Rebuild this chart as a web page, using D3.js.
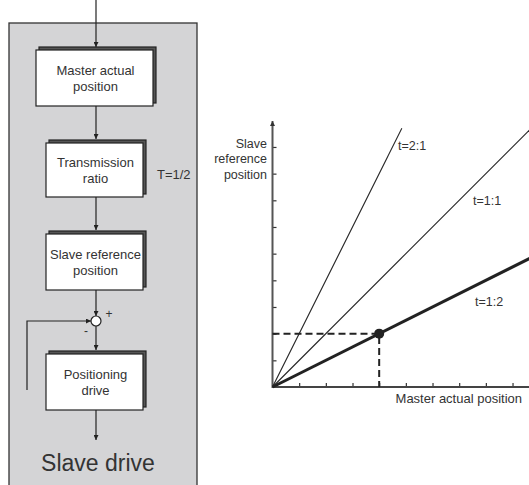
<!DOCTYPE html>
<html>
<head>
<meta charset="utf-8">
<script src="https://cdn.jsdelivr.net/npm/d3@7"></script>
<style>
  html, body { margin: 0; padding: 0; background: #fff; }
  svg { display: block; font-family: "Liberation Sans", Arial, sans-serif; }
</style>
</head>
<body>
<svg id="chart" width="529" height="485"></svg>
<script>
// ---------------- data ----------------
const blockLabels = [
  ["Master actual", "position"],
  ["Transmission", "ratio"],
  ["Slave reference", "position"],
  ["Positioning", "drive"]
];
const ratioText = "T=1/2";
const panelTitle = "Slave drive";

const seriesNames = ["t=2:1", "t=1:1", "t=1:2"];
const seriesSlopes = [2, 1, 0.5];
const seriesEndX = [4.85, 9.75, 9.75];
const operatingPoint = [4, 2];
const xTicks = [1, 2, 3, 4, 5, 6, 7, 8, 9];
const yTicks = [1, 2, 3, 4, 5, 6, 7, 8, 9];
const yLabelLines = ["Slave", "reference", "position"];
const xLabel = "Master actual position";

// ---------------- setup ----------------
const svg = d3.select("#chart");
const ink = "#222";
const defs = svg.append("defs");
defs.append("marker").attr("id", "arr")
  .attr("viewBox", "0 0 10 10").attr("refX", 10).attr("refY", 5)
  .attr("markerWidth", 5).attr("markerHeight", 5).attr("markerUnits", "userSpaceOnUse")
  .attr("orient", "auto")
  .append("path").attr("d", "M0,0 L10,5 L0,10 z").attr("fill", ink);
defs.append("marker").attr("id", "arrAxis")
  .attr("viewBox", "0 0 10 10").attr("refX", 10).attr("refY", 5)
  .attr("markerWidth", 7).attr("markerHeight", 5).attr("markerUnits", "userSpaceOnUse")
  .attr("orient", "auto")
  .append("path").attr("d", "M0,0 L10,5 L0,10 z").attr("fill", "#333");

// ---------------- left block diagram ----------------
const left = svg.append("g");
left.append("rect").attr("x", 9).attr("y", 23).attr("width", 188).attr("height", 480)
  .attr("fill", "#d4d4d6").attr("stroke", "#333").attr("stroke-width", 1.3);

const boxLayout = [
  { x: 36, y: 50, w: 117, h: 56 },
  { x: 46, y: 143, w: 97, h: 54 },
  { x: 46, y: 234, w: 97, h: 56 },
  { x: 46, y: 354, w: 97, h: 56 }
];
const ax = 96;

blockLabels.forEach((lines, i) => {
  const b = boxLayout[i];
  const g = left.append("g");
  g.append("rect").attr("x", b.x + 3).attr("y", b.y - 3).attr("width", b.w).attr("height", b.h)
    .attr("fill", "#555").attr("stroke", ink).attr("stroke-width", 1.2);
  g.append("rect").attr("x", b.x).attr("y", b.y).attr("width", b.w).attr("height", b.h)
    .attr("fill", "#fff").attr("stroke", ink).attr("stroke-width", 1.2);
  const cx = b.x + b.w / 2 + 1, cy = b.y + b.h / 2;
  g.selectAll("text").data(lines).join("text")
    .attr("x", cx).attr("y", (d, j) => cy + (j - (lines.length - 1) / 2) * 16 + 4.5)
    .attr("text-anchor", "middle").attr("font-size", 13).attr("fill", "#333")
    .text(d => d);
});

function arrow(x1, y1, x2, y2) {
  left.append("line").attr("x1", x1).attr("y1", y1).attr("x2", x2).attr("y2", y2)
    .attr("stroke", ink).attr("stroke-width", 1.2).attr("marker-end", "url(#arr)");
}
arrow(ax, 0, ax, boxLayout[0].y - 3);
arrow(ax, boxLayout[0].y + boxLayout[0].h, ax, boxLayout[1].y - 4);
arrow(ax, boxLayout[1].y + boxLayout[1].h, ax, boxLayout[2].y - 4);
const circ = { x: ax, y: 321, r: 5 };
arrow(ax, boxLayout[2].y + boxLayout[2].h, ax, circ.y - circ.r);
arrow(ax, circ.y + circ.r, ax, boxLayout[3].y - 4);
arrow(ax, boxLayout[3].y + boxLayout[3].h, ax, 440);
left.append("path").attr("d", `M27,390 L27,${circ.y} L${circ.x - circ.r},${circ.y}`)
  .attr("fill", "none").attr("stroke", ink).attr("stroke-width", 1.2).attr("marker-end", "url(#arr)");
left.append("circle").attr("cx", circ.x).attr("cy", circ.y).attr("r", circ.r)
  .attr("fill", "#fff").attr("stroke", ink).attr("stroke-width", 1.2);
left.append("text").attr("x", 109).attr("y", 318).attr("text-anchor", "middle")
  .attr("font-size", 12).attr("fill", "#333").text("+");
left.append("text").attr("x", 86).attr("y", 335).attr("text-anchor", "middle")
  .attr("font-size", 12).attr("fill", "#333").text("-");
left.append("text").attr("x", 157).attr("y", 178.5).attr("font-size", 13).attr("fill", "#333").text(ratioText);
left.append("text").attr("x", 98).attr("y", 471).attr("text-anchor", "middle")
  .attr("font-size", 23).attr("fill", "#333").text(panelTitle);

// ---------------- right chart ----------------
const unit = 26.67;
const ox = 272.5, oy = 387;
const x = d3.scaleLinear().domain([0, 9.75]).range([ox, ox + 9.75 * unit]);
const y = d3.scaleLinear().domain([0, 9.75]).range([oy, oy - 9.75 * unit]);
const chart = svg.append("g");

// axes ticks
const xAxis = chart.append("g").attr("transform", `translate(0,${oy})`)
  .call(d3.axisTop(x).tickValues(xTicks).tickSize(4).tickFormat(""));
const yAxis = chart.append("g").attr("transform", `translate(${ox},0)`)
  .call(d3.axisRight(y).tickValues(yTicks).tickSize(4).tickFormat(""));
[xAxis, yAxis].forEach(a => {
  a.select(".domain").remove();
  a.selectAll(".tick line").attr("stroke", "#333").attr("stroke-width", 1.2);
});
chart.append("line").attr("x1", ox).attr("y1", oy).attr("x2", 529).attr("y2", oy)
  .attr("stroke", "#444").attr("stroke-width", 2);
chart.append("line").attr("x1", ox).attr("y1", oy + 1).attr("x2", ox).attr("y2", 121)
  .attr("stroke", "#555").attr("stroke-width", 2).attr("marker-end", "url(#arrAxis)");

// dashed guides
chart.append("path")
  .attr("d", `M${x(0)},${y(operatingPoint[1])} L${x(operatingPoint[0])},${y(operatingPoint[1])} L${x(operatingPoint[0])},${y(0)}`)
  .attr("fill", "none").attr("stroke", ink).attr("stroke-width", 2).attr("stroke-dasharray", "7,4");

// ratio lines
const line = d3.line().x(d => x(d[0])).y(d => y(d[1]));
seriesNames.forEach((name, i) => {
  const pts = [[0, 0], [seriesEndX[i], seriesEndX[i] * seriesSlopes[i]]];
  chart.append("path").attr("d", line(pts)).attr("fill", "none")
    .attr("stroke", ink).attr("stroke-width", seriesSlopes[i] === 0.5 ? 3 : 1.1);
});
chart.append("circle").attr("cx", x(operatingPoint[0])).attr("cy", y(operatingPoint[1]))
  .attr("r", 5).attr("fill", ink);

// series labels
const labelPos = [[398, 149.5], [473, 204.5], [475, 305.5]];
seriesNames.forEach((name, i) => {
  chart.append("text").attr("x", labelPos[i][0]).attr("y", labelPos[i][1])
    .attr("font-size", 12.5).attr("fill", "#333").text(name);
});

// axis labels
chart.append("g").selectAll("text").data(yLabelLines).join("text")
  .attr("x", 267).attr("y", (d, i) => 147.5 + i * 15.5)
  .attr("text-anchor", "end").attr("font-size", 12.5).attr("fill", "#333").text(d => d);
chart.append("text").attr("x", 522).attr("y", 403).attr("text-anchor", "end")
  .attr("font-size", 13).attr("fill", "#333").text(xLabel);
</script>
</body>
</html>
